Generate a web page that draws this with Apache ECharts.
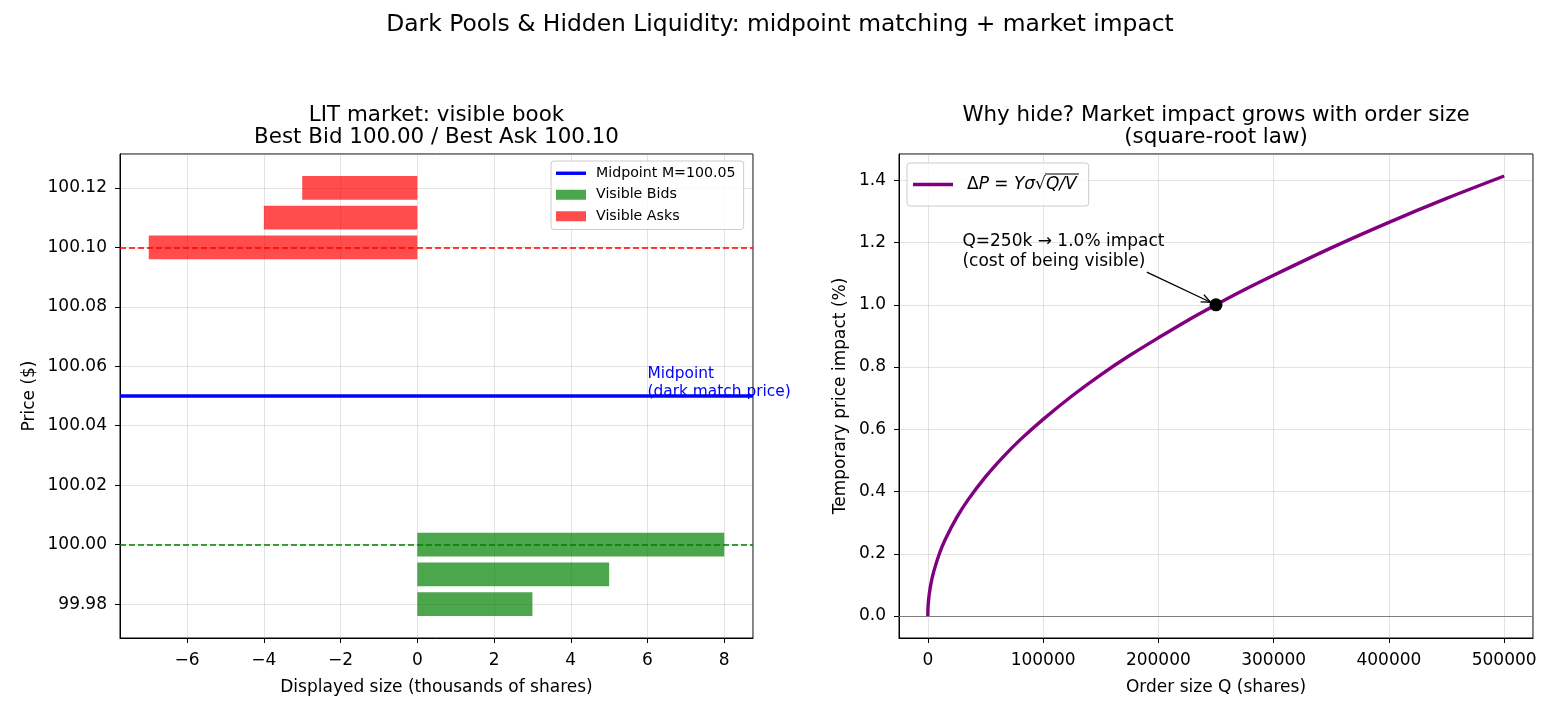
<!DOCTYPE html>
<html>
<head>
<meta charset="utf-8">
<script src="https://cdn.jsdelivr.net/npm/echarts@6/dist/echarts.min.js"></script>
<style>
  html, body { margin: 0; padding: 0; background: #fff; }
  #chart { width: 1560px; height: 715px; }
</style>
</head>
<body>
<div id="chart"></div>
<script>
// ---- data: lit order book ----
const askPrices = [100.10, 100.11, 100.12];
const askSizes = [-7, -4, -3];          // thousands of shares (drawn to the left)
const bidPrices = [100.00, 99.99, 99.98];
const bidSizes = [8, 5, 3];
const bestBid = 100.00;
const bestAsk = 100.10;
const midpoint = 100.05;

// ---- data: square-root impact curve ----
const orderSizes = [0, 250, 1000, 2500, 5000, 10000, 15000, 25000, 35000, 50000, 65000, 80000,
                    100000, 125000, 150000, 175000, 200000, 225000, 250000, 275000, 300000,
                    350000, 400000, 450000, 500000];
const impactPct = [0, 0.032, 0.063, 0.100, 0.141, 0.200, 0.245, 0.316, 0.374, 0.447, 0.510, 0.566,
                   0.632, 0.707, 0.775, 0.837, 0.894, 0.949, 1.000, 1.049, 1.095,
                   1.183, 1.265, 1.342, 1.414];
const markQ = 250000;
const markImpact = 1.0;

const FONT = 'DejaVu Sans';
const BAR_H = 0.008;
const impactName = 'ΔP = Yσ√Q/V';

// axis extents with matplotlib-like 5% margins
const lx0 = Math.min(0, ...askSizes), lx1 = Math.max(0, ...bidSizes);
const lxPad = (lx1 - lx0) * 0.05;
const ly0 = Math.min(...bidPrices) - BAR_H / 2, ly1 = Math.max(...askPrices) + BAR_H / 2;
const lyPad = (ly1 - ly0) * 0.05;
const rx0 = Math.min(...orderSizes), rx1 = Math.max(...orderSizes);
const rxPad = (rx1 - rx0) * 0.05;
const ry0 = Math.min(...impactPct), ry1 = Math.max(...impactPct);
const ryPad = (ry1 - ry0) * 0.05;

function onStep(v, step) {
    return Math.abs(v / step - Math.round(v / step)) < 1e-6;
}

function barItem(color) {
    return function (params, api) {
        const size = api.value(0), price = api.value(1);
        const a = api.coord([0, price + BAR_H / 2]);
        const b = api.coord([size, price - BAR_H / 2]);
        return {
            type: 'rect',
            shape: { x: Math.min(a[0], b[0]), y: a[1], width: Math.abs(b[0] - a[0]), height: b[1] - a[1] },
            style: { fill: color }
        };
    };
}

const axisCommon = {
    axisLine: { show: true, onZero: false, lineStyle: { color: '#000', width: 1 } },
    axisTick: { show: true, length: 5, lineStyle: { color: '#000' } },
    splitLine: { show: true, lineStyle: { color: 'rgba(176,176,176,0.35)', width: 1 } },
    nameLocation: 'middle',
    nameTextStyle: { fontFamily: FONT, fontSize: 17, color: '#000' }
};
const labelCommon = { fontFamily: FONT, fontSize: 17, color: '#000' };

let myChart = echarts.init(document.getElementById('chart'));

let option = {
    animation: false,
    backgroundColor: '#fff',
    graphic: [
        { type: 'text', x: 780, y: 25, style: { text: 'Dark Pools & Hidden Liquidity: midpoint matching + market impact', font: '23.4px "DejaVu Sans"', fill: '#000', align: 'center', verticalAlign: 'middle' } },
        { type: 'text', x: 436.5, y: 126, style: { text: 'LIT market: visible book\nBest Bid ' + bestBid.toFixed(2) + ' / Best Ask ' + bestAsk.toFixed(2), font: '21.4px "DejaVu Sans"', lineHeight: 22, fill: '#000', align: 'center', verticalAlign: 'middle' } },
        { type: 'text', x: 1216, y: 126, style: { text: 'Why hide? Market impact grows with order size\n(square-root law)', font: '21.4px "DejaVu Sans"', lineHeight: 22, fill: '#000', align: 'center', verticalAlign: 'middle' } },
        // radical bar over Q/V in the legend label
        { type: 'line', z: 100, shape: { x1: 1045, y1: 174, x2: 1079, y2: 174 }, style: { stroke: '#000', lineWidth: 1 } }
    ],
    legend: [{
        orient: 'vertical',
        left: 551, top: 161,
        itemWidth: 30, itemHeight: 10, itemGap: 5,
        padding: [4, 8, 5, 5],
        backgroundColor: 'rgba(255,255,255,0.8)',
        borderColor: '#cccccc', borderWidth: 1, borderRadius: 3,
        textStyle: { fontFamily: FONT, fontSize: 14.2, lineHeight: 16.5, color: '#000', padding: [0, 0, 0, 5] },
        data: [
            { name: 'Midpoint M=' + midpoint.toFixed(2), icon: 'path://M0,0 H30 V3.4 H0 Z' },
            { name: 'Visible Bids', icon: 'rect' },
            { name: 'Visible Asks', icon: 'rect' }
        ]
    }, {
        orient: 'vertical',
        left: 907, top: 163,
        itemWidth: 40, itemHeight: 10,
        padding: [13, 12, 13, 6],
        backgroundColor: 'rgba(255,255,255,0.8)',
        borderColor: '#cccccc', borderWidth: 1, borderRadius: 3,
        textStyle: {
            fontFamily: FONT, fontSize: 17, color: '#000', padding: [0, 0, 0, 9],
            rich: {
                u: { fontFamily: FONT, fontSize: 17 },
                i: { fontFamily: FONT, fontSize: 17, fontStyle: 'italic' }
            }
        },
        formatter: () => '{u|Δ}{i|P} = {i|Yσ}{u|√}{i|Q/V}',
        data: [{ name: impactName, icon: 'path://M0,0 H40 V3.4 H0 Z' }]
    }],
    grid: [
        { left: 120, top: 154, width: 633, height: 484, show: true, borderColor: '#000', borderWidth: 1 },
        { left: 899, top: 154, width: 634, height: 484, show: true, borderColor: '#000', borderWidth: 1 }
    ],
    xAxis: [
        Object.assign({}, axisCommon, {
            type: 'value', gridIndex: 0, min: lx0 - lxPad, max: lx1 + lxPad, splitNumber: 8,
            name: 'Displayed size (thousands of shares)', nameGap: 41,
            axisLabel: Object.assign({}, labelCommon, { margin: 14, showMinLabel: false, showMaxLabel: false,
                formatter: v => onStep(v, 2) ? (v < 0 ? '\u2212' + (-v) : String(v)) : '' })
        }),
        Object.assign({}, axisCommon, {
            type: 'value', gridIndex: 1, min: rx0 - rxPad, max: rx1 + rxPad, splitNumber: 5,
            name: 'Order size Q (shares)', nameGap: 41,
            axisLabel: Object.assign({}, labelCommon, { margin: 14, showMinLabel: false, showMaxLabel: false,
                formatter: v => onStep(v, 100000) ? String(Math.round(v)) : '' })
        })
    ],
    yAxis: [
        Object.assign({}, axisCommon, {
            type: 'value', gridIndex: 0, min: ly0 - lyPad, max: ly1 + lyPad, splitNumber: 8,
            name: 'Price ($)', nameGap: 82,
            axisLabel: Object.assign({}, labelCommon, { margin: 13, showMinLabel: false, showMaxLabel: false,
                formatter: v => onStep(v, 0.02) ? v.toFixed(2) : '' })
        }),
        Object.assign({}, axisCommon, {
            type: 'value', gridIndex: 1, min: ry0 - ryPad, max: ry1 + ryPad, splitNumber: 7,
            name: 'Temporary price impact (%)', nameGap: 50,
            axisLabel: Object.assign({}, labelCommon, { margin: 13, showMinLabel: false, showMaxLabel: false,
                formatter: v => onStep(v, 0.2) ? v.toFixed(1) : '' })
        })
    ],
    series: [
        {
            name: 'Visible Asks', type: 'custom', xAxisIndex: 0, yAxisIndex: 0,
            itemStyle: { color: 'rgba(255,0,0,0.7)' },
            renderItem: barItem('rgba(255,0,0,0.7)'),
            encode: { x: 0, y: 1 },
            data: askSizes.map((s, i) => [s, askPrices[i]]),
            markLine: {
                silent: true, symbol: 'none', label: { show: false },
                lineStyle: { color: '#ff0000', type: [6, 3], width: 1.7 },
                data: [{ yAxis: bestAsk }]
            }
        },
        {
            name: 'Visible Bids', type: 'custom', xAxisIndex: 0, yAxisIndex: 0,
            itemStyle: { color: 'rgba(0,128,0,0.7)' },
            renderItem: barItem('rgba(0,128,0,0.7)'),
            encode: { x: 0, y: 1 },
            data: bidSizes.map((s, i) => [s, bidPrices[i]]),
            markLine: {
                silent: true, symbol: 'none', label: { show: false },
                lineStyle: { color: '#008000', type: [6, 3], width: 1.7 },
                data: [{ yAxis: bestBid }]
            }
        },
        {
            name: 'Midpoint M=' + midpoint.toFixed(2), type: 'line', xAxisIndex: 0, yAxisIndex: 0,
            symbol: 'none', color: '#0000ff',
            lineStyle: { color: '#0000ff', width: 3.4 },
            data: [[lx0 - lxPad, midpoint], [lx1 + lxPad, midpoint]],
            z: 3
        },
        {
            // "Midpoint (dark match price)" note, anchored at x=6 on the midpoint
            type: 'custom', xAxisIndex: 0, yAxisIndex: 0, silent: true, clip: false,
            data: [[6, midpoint]],
            renderItem: function (params, api) {
                const p = api.coord([api.value(0), api.value(1)]);
                return {
                    type: 'text', x: p[0], y: p[1] + 5,
                    style: { text: 'Midpoint\n(dark match price)', fill: '#0000ff', font: '15.4px "DejaVu Sans"', lineHeight: 18, align: 'left', verticalAlign: 'bottom' }
                };
            },
            z: 4
        },
        {
            name: impactName, type: 'line', xAxisIndex: 1, yAxisIndex: 1,
            symbol: 'none', color: '#800080', smooth: 0.3,
            lineStyle: { color: '#800080', width: 3.4 },
            data: orderSizes.map((q, i) => [q, impactPct[i]]),
            markLine: {
                silent: true, symbol: 'none', label: { show: false },
                lineStyle: { color: '#808080', type: 'solid', width: 1.2 },
                data: [{ yAxis: 0 }]
            },
            z: 3
        },
        {
            type: 'scatter', xAxisIndex: 1, yAxisIndex: 1,
            symbolSize: 13, itemStyle: { color: '#000', opacity: 1 },
            data: [[markQ, markImpact]], z: 5
        },
        {
            // annotation: text + arrow to the marked point
            type: 'custom', xAxisIndex: 1, yAxisIndex: 1, silent: true, clip: false,
            data: [[markQ, markImpact]],
            renderItem: function (params, api) {
                const t = api.coord([30000, 1.12]);
                const s = api.coord([190000, 1.105]);
                const e0 = api.coord([api.value(0), api.value(1)]);
                const dx = e0[0] - s[0], dy = e0[1] - s[1];
                const len = Math.sqrt(dx * dx + dy * dy);
                const ux = dx / len, uy = dy / len;
                const e = [e0[0] - ux * 6, e0[1] - uy * 6];
                const hl = 10, ang = 0.4;
                const h1 = [e[0] - hl * (ux * Math.cos(ang) - uy * Math.sin(ang)), e[1] - hl * (uy * Math.cos(ang) + ux * Math.sin(ang))];
                const h2 = [e[0] - hl * (ux * Math.cos(ang) + uy * Math.sin(ang)), e[1] - hl * (uy * Math.cos(ang) - ux * Math.sin(ang))];
                return {
                    type: 'group',
                    children: [
                        { type: 'text', x: t[0], y: t[1] + 4,
                          style: { text: 'Q=250k \u2192 1.0% impact\n(cost of being visible)', fill: '#000', font: '17px "DejaVu Sans"', lineHeight: 20, align: 'left', verticalAlign: 'bottom' } },
                        { type: 'line', shape: { x1: s[0], y1: s[1], x2: e[0], y2: e[1] }, style: { stroke: '#000', lineWidth: 1.3 } },
                        { type: 'polyline', shape: { points: [h1, e, h2] }, style: { stroke: '#000', lineWidth: 1.3, fill: null } }
                    ]
                };
            },
            z: 6
        }
    ]
};

myChart.setOption(option);
</script>
</body>
</html>
